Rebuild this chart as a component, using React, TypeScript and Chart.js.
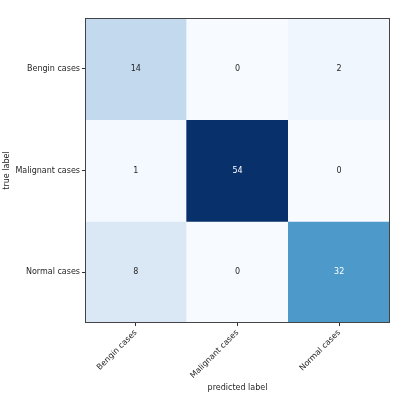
import React, { useEffect, useRef } from 'react';
import { Chart, registerables } from 'chart.js';

Chart.register(...registerables);

const classLabels = ['Bengin cases', 'Malignant cases', 'Normal cases'];
const rowBengin = [14, 0, 2];
const rowMalignant = [1, 54, 0];
const rowNormal = [8, 0, 32];
const matrixRows = [rowBengin, rowMalignant, rowNormal];
const xTitle = 'predicted label';
const yTitle = 'true label';

const BLUES = ['#f7fbff', '#deebf7', '#c6dbef', '#9ecae1', '#6baed6', '#4292c6', '#2171b5', '#08519c', '#08306b'];

function hexToRgb(h: string) {
  const n = parseInt(h.slice(1), 16);
  return [(n >> 16) & 255, (n >> 8) & 255, n & 255];
}

function blues(t: number) {
  const tt = Math.max(0, Math.min(1, t)) * (BLUES.length - 1);
  const i = Math.min(BLUES.length - 2, Math.floor(tt));
  const f = tt - i;
  const a = hexToRgb(BLUES[i]);
  const b = hexToRgb(BLUES[i + 1]);
  const c = a.map((v, k) => Math.round(v + (b[k] - v) * f));
  return `rgb(${c[0]},${c[1]},${c[2]})`;
}

const FONT = 'DejaVu Sans';
const TEXT = '#262626';

export default function App() {
  const ref = useRef<HTMLCanvasElement | null>(null);

  useEffect(() => {
    const maxVal = Math.max(...matrixRows.flat());
    const threshold = maxVal / 2;

    const cellText = {
      id: 'cellText',
      afterDatasetsDraw(chart: any) {
        const ctx = chart.ctx;
        ctx.save();
        ctx.font = `8px "${FONT}"`;
        ctx.textAlign = 'center';
        ctx.textBaseline = 'middle';
        chart.data.datasets.forEach((ds: any, r: number) => {
          const meta = chart.getDatasetMeta(r);
          meta.data.forEach((el: any, c: number) => {
            const v = matrixRows[r][c];
            const p = el.getCenterPoint();
            ctx.fillStyle = v > threshold ? '#ffffff' : TEXT;
            ctx.fillText(String(v), p.x, p.y);
          });
        });
        ctx.restore();
      },
    };

    const frame = {
      id: 'frame',
      afterDraw(chart: any) {
        const { ctx, chartArea: a } = chart;
        ctx.save();
        ctx.strokeStyle = '#444';
        ctx.lineWidth = 1;
        ctx.strokeRect(Math.round(a.left) + 0.5, Math.round(a.top) + 0.5, Math.round(a.right - a.left) - 1, Math.round(a.bottom - a.top) - 1);
        ctx.restore();
      },
    };

    const chart = new Chart(ref.current as HTMLCanvasElement, {
      type: 'bar',
      data: {
        labels: classLabels,
        datasets: matrixRows.map((row, r) => ({
          label: classLabels[r],
          data: classLabels.map(() => [r - 0.5, r + 0.5]),
          backgroundColor: row.map((v) => blues(v / maxVal)),
          borderWidth: 0,
          barPercentage: 1,
          categoryPercentage: 1,
        })),
      } as any,
      options: {
        animation: false,
        responsive: false,
        devicePixelRatio: 1,
        layout: { padding: { top: 18, right: 17, left: 0, bottom: 0 } },
        plugins: { legend: { display: false }, tooltip: { enabled: false } },
        scales: {
          x: {
            stacked: true,
            offset: true,
            grid: { offset: false, drawOnChartArea: false, drawTicks: true, tickLength: 3, color: '#333' },
            border: { display: false },
            ticks: { color: TEXT, font: { family: FONT, size: 8 }, minRotation: 45, maxRotation: 45, padding: 2 },
            title: { display: true, text: xTitle, color: TEXT, font: { family: FONT, size: 8 }, padding: { top: 0, bottom: 5 } },
            afterFit: (s: any) => { s.height = 75; },
          },
          y: {
            type: 'linear',
            stacked: false,
            min: -0.5,
            max: 2.5,
            reverse: true,
            afterBuildTicks: (s: any) => { s.ticks = classLabels.map((_, i) => ({ value: i })); },
            grid: { drawOnChartArea: false, drawTicks: true, tickLength: 3, color: '#333' },
            border: { display: false },
            ticks: {
              color: TEXT,
              font: { family: FONT, size: 8 },
              padding: 2,
              callback: (v: any) => classLabels[Math.round(Number(v))] ?? '',
            },
            title: { display: true, text: yTitle, color: TEXT, font: { family: FONT, size: 8 }, padding: { top: 2, bottom: 0 } },
            afterFit: (s: any) => { s.width = 85; },
          },
        },
      } as any,
      plugins: [cellText, frame],
    });

    return () => chart.destroy();
  }, []);

  return (
    <div style={{ position: 'absolute', left: 0, top: 0, width: 407, height: 398, background: '#fff' }}>
      <canvas ref={ref} width={407} height={398} />
    </div>
  );
}
